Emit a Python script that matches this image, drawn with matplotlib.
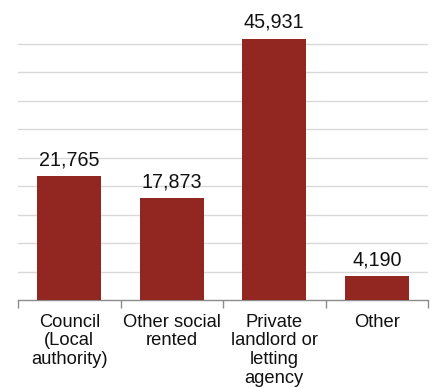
import matplotlib
matplotlib.use("Agg")
import matplotlib.pyplot as plt

categories = ["Council\n(Local\nauthority)", "Other social\nrented", "Private\nlandlord or\nletting\nagency", "Other"]
values = [21765, 17873, 45931, 4190]
value_labels = ["21,765", "17,873", "45,931", "4,190"]
grid_values = [5000, 10000, 15000, 20000, 25000, 30000, 35000, 40000, 45000]

plt.rcParams['font.family'] = ['Liberation Sans', 'DejaVu Sans']

fig = plt.figure(figsize=(4.36, 3.87), dpi=100)
W, H = 436, 387
left, right, bottom = 18, 428, 300
ymax = 50000
scale = 256 / 45000.0
top = bottom - ymax * scale
ax = fig.add_axes([left / W, 1 - bottom / H, (right - left) / W, (bottom - top) / H])

x = list(range(len(categories)))
ax.bar(x, values, width=0.62, color="#912720", zorder=3)
ax.set_xlim(-0.5, len(categories) - 0.5)
ax.set_ylim(0, ymax)
for g in grid_values:
    ax.axhline(g, color="#d9d9d9", linewidth=1.0, zorder=1)

for xi, v, lab in zip(x, values, value_labels):
    ax.annotate(lab, (xi, v), xytext=(0, 5), textcoords="offset points",
                ha="center", va="bottom", fontsize=14.2, color="#111111")

ax.set_yticks([])
for s in ["top", "right", "left"]:
    ax.spines[s].set_visible(False)
ax.spines["bottom"].set_color("#8c8c8c")
ax.spines["bottom"].set_linewidth(1.0)

ax.set_xticks([i - 0.5 for i in range(len(categories) + 1)], minor=False)
ax.set_xticklabels([])
ax.tick_params(axis="x", which="major", length=6, color="#8c8c8c", width=1.0)
ax.set_xticks(x, minor=True)
ax.set_xticklabels(categories, minor=True, fontsize=13.2, linespacing=1.12, color="#111111")
ax.tick_params(axis="x", which="minor", length=0, pad=10)

fig.savefig("out.png", dpi=100)
